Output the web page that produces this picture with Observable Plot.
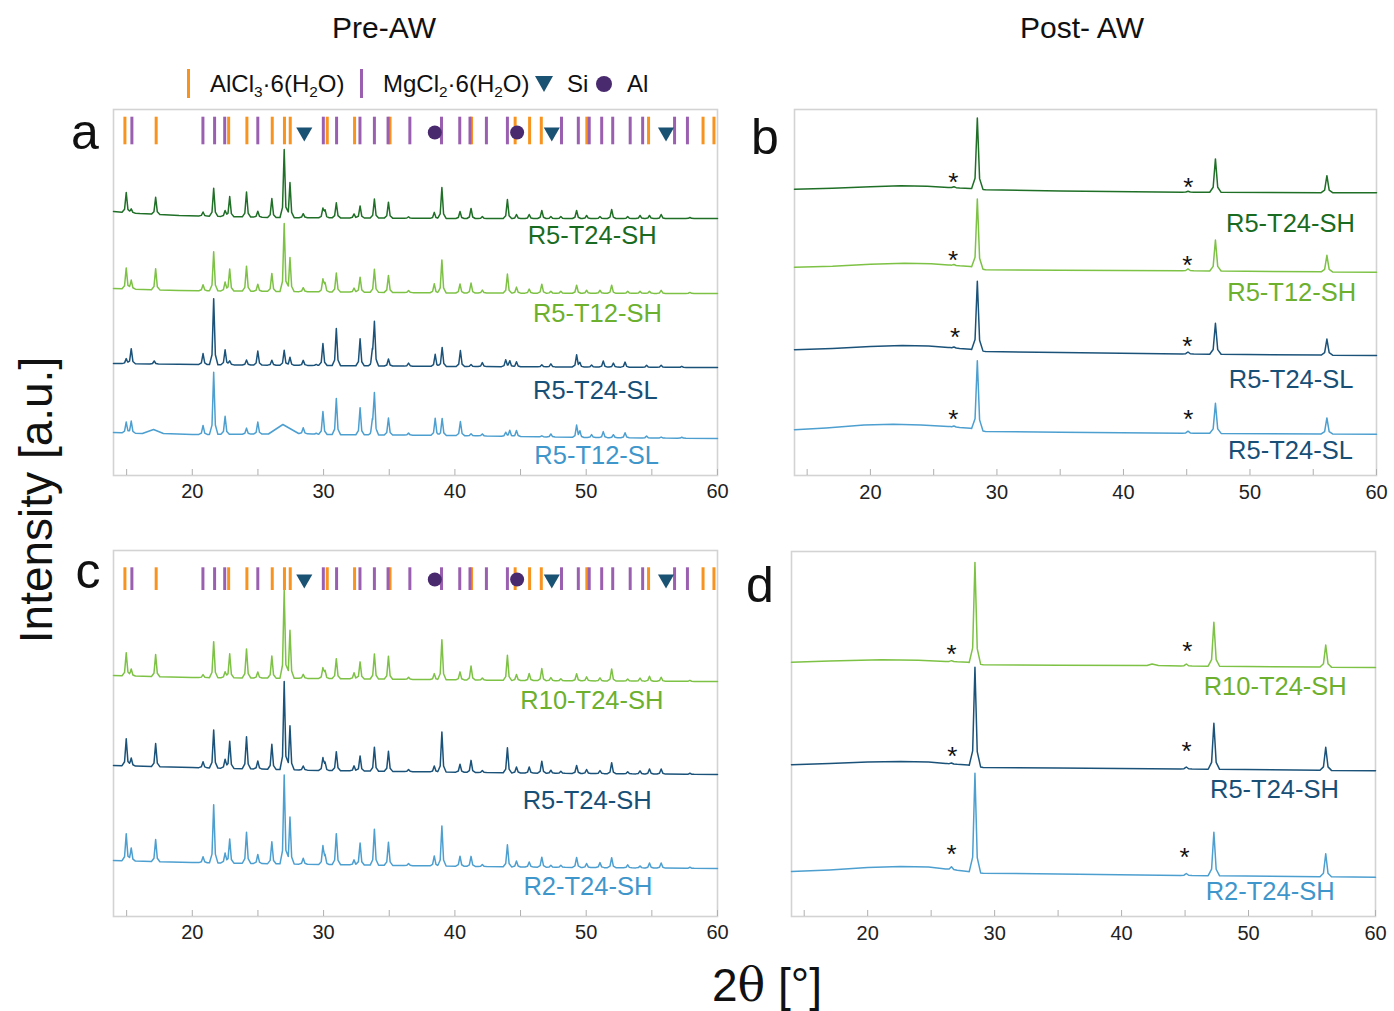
<!DOCTYPE html>
<html><head><meta charset="utf-8">
<script src="https://cdn.jsdelivr.net/npm/d3@7"></script>
<script src="https://cdn.jsdelivr.net/npm/@observablehq/plot@0.6"></script>
<style>
body{margin:0;background:#fff;font-family:"Liberation Sans",Arial,Helvetica,sans-serif;color:#111;}
#root{position:relative;width:1394px;height:1011px;overflow:hidden;background:#fff;}
.abs{position:absolute;white-space:nowrap;line-height:1;}
.leg{font-size:24px;line-height:28px;top:70px;color:#111;}
.leg sub{font-size:64%;vertical-align:-0.32em;line-height:0;}
</style></head><body><div id="root"></div>
<script>
// ---------- axis / reference data ----------
const XDOMAIN = [14, 60];
const xTickValues = [20, 30, 40, 50, 60];
const minorTickValues = [15, 20, 25, 30, 35, 40, 45, 50, 55, 60];

const refAlCl3 = [14.87, 17.25, 22.77, 24.16, 26.09, 27.02, 27.46, 30.28, 32.36, 35.06, 41.27, 44.59, 45.69, 46.58, 50.05, 54.75, 58.9, 59.73];
const refMgCl2 = [15.4, 20.81, 21.7, 22.47, 24.99, 29.98, 30.99, 32.77, 33.87, 34.91, 36.57, 38.98, 40.37, 41.15, 42.4, 44.0, 48.12, 49.4, 50.23, 51.18, 52.02, 53.35, 54.3, 56.73, 57.71];
const refSi = [28.53, 47.38, 56.08];
const refAl = [38.47, 44.74];

// ---------- Pre-AW patterns (peak positions in 2θ, heights in a.u.) ----------
const peaksSH = [14.97, 15.35, 17.21, 20.82, 21.63, 22.5, 22.85, 24.13, 24.99, 26.06, 27.0, 27.44, 28.45, 29.95, 30.11, 30.97, 32.32, 32.78, 33.87, 34.94, 36.47, 38.43, 39.01, 40.39, 41.23, 42.09, 44.0, 44.69, 45.66, 46.62, 47.31, 48.07, 49.27, 50.03, 51.05, 51.94, 53.16, 54.1, 54.82, 55.71, 57.9];
const hA_R5T24SH = [20,4,17,4,28, 6,20,25,6,19, 68,35,4,9,7, 15,4,12,19,16, 1.5,6,31,7,10, 2,19,4,4,8, 2,2,8,3,2, 9,2,3,3,4, 1];
const hA_R5T12SH = [21,9,21,6,39, 9,22,25,7,18, 68,34,4,12,8, 19,4,15,23,17, 2,9,33,9,10, 3,19,6,4,9, 2,2,8,3,3, 8,2,2,2,3, 1];
const hC_R10T24SH = [23,7,22,3,36, 6,24,29,6,22, 88,48,4,10,7, 20,6,17,25,23, 2,6,40,8,14, 2,25,6,7,12, 3,2,7,4,3, 12,2,3,5,4, 1];
const hC_R5T24SH = [27,8,23,6,38, 9,27,32,8,25, 88,44,4,12,7, 19,5,15,24,20, 2,6,40,8,12, 2,25,6,6,12, 3,2,8,4,3, 11,2,3,5,5, 1];
const hC_R2T24SH = [27,13,22,6,58, 10,24,31,9,22, 89,47,6,18,8, 31,5,22,36,23, 2,10,40,10,10, 2,22,6,5,10, 2,2,10,4,5, 10,3,2,5,5, 1];

const peaksSL = [14.97, 15.35, 17.1, 20.82, 21.63, 22.5, 22.85, 24.13, 24.99, 26.06, 27.0, 27.44, 28.45, 29.44, 29.95, 30.97, 32.78, 33.72, 33.87, 34.94, 36.47, 38.5, 39.03, 40.42, 41.23, 42.09, 43.87, 44.18, 44.69, 46.62, 47.31, 49.27, 49.52, 50.41, 51.3, 52.07, 52.96, 54.6, 55.71, 57.28];
const hA_R5T24SL = [5,15,3,11,66, 15,4,5,14,5, 15,8,5,1,22, 37,27,12,43,7, 3,12,19,16,2, 4,7,6,5,2, 3,12,4,2,6, 4,5,2,2,1];
const hA_R5T12SL = [11,12,0,9,62, 18,0,6,12,0, 0,0,6,1,23, 36,27,11,41,17, 2,17,17,14,2, 2,4,6,6,1, 3,12,6,3,6, 3,5,2,1,1];

// baselines: [2θ, intensity]
const baseA_R5T24SH = [[14,264],[16,262],[19,260],[26,258],[40,257],[60,257]];
const baseA_R5T12SH = [[14,187],[19,185],[27,184],[40,182.5],[60,182]];
const baseA_R5T24SL = [[14,112],[24,110.5],[30,110],[40,109],[60,108]];
const baseA_R5T12SL = [[14,43],[16.2,42],[17.05,46],[17.8,42],[20,41],[25.8,41.5],[26.9,51],[28.1,42],[30,41],[40,40],[50,38],[60,37]];
const baseC_R10T24SH = [[14,241],[20,239],[30,238],[45,236],[60,235]];
const baseC_R5T24SH = [[14,151],[20,149],[30,146],[45,143.5],[60,142]];
const baseC_R2T24SH = [[14,56],[20,54],[30,52],[45,49.5],[60,48]];

// ---------- Post-AW patterns ----------
const peaksPost = [26.6, 28.45, 45.1, 47.27, 56.08];
const hB_R5T24SH = [1, 71, 1, 33.4, 17];
const hB_R5T12SH = [1, 69, 2, 31, 16.5];
const hB_R5T24SL = [1, 69, 2, 31, 16];
const hB_R5T24SL2 = [1, 69, 2, 30, 16];
const hD_R10T24SH = [1, 101, 2, 44, 22];
const hD_R5T24SH = [1, 99, 2, 46, 23];
const hD_R2T24SH = [3, 99, 2, 43.5, 23];

const baseB_R5T24SH = [[14,286.3],[17,287.3],[20,288.8],[22.4,289.7],[24.5,289.2],[26.3,288],[27.9,287],[29.1,285.7],[35,284.5],[45,283.3],[60,282.7]];
const baseB_R5T12SH = [[14,208.3],[17,209.3],[20,211.2],[22.7,212.3],[24.8,211.8],[26.3,210.3],[27.9,209],[29.1,205.7],[35,205.2],[45,204.7],[60,203.3]];
const baseB_R5T24SL = [[14,125.7],[17,127],[20,129],[22.5,130],[24.6,129.5],[26.3,127.8],[27.9,126.3],[29.1,124],[35,123],[45,121.5],[60,120]];
const baseB_R5T24SL2 = [[14,45.7],[16.5,47.5],[19.5,50.5],[21.8,51.3],[24,50.6],[26.3,48.8],[27.9,47.3],[29.1,44],[35,43.3],[45,42.3],[60,41.3]];
const baseD_R10T24SH = [[14,254.3],[17,255.6],[21.1,256.7],[24,256.2],[26.3,255],[27.9,254.3],[29.1,251.7],[35,251.3],[42,251],[42.4,252.5],[42.9,251],[45,250.5],[60,249]];
const baseD_R5T24SH = [[14,151.7],[17,153],[20,154.5],[22.6,155],[24.8,154.5],[26.3,152.8],[27.9,151.5],[29.1,149],[35,148.5],[45,147.5],[60,145.7]];
const baseD_R2T24SH = [[14,45],[17,46.6],[20,49],[22.6,50],[24.8,49.4],[26.3,47.2],[27.9,45],[29.1,43.3],[35,42.5],[45,41],[60,39.3]];

// asterisks (2θ, intensity)
const starsB = [[26.56,300],[45.13,294.7],[26.53,221.7],[45.04,217.3],[26.7,144.7],[45.04,136.3],[26.56,63],[45.13,63]];
const starsD = [[26.6,269.3],[45.18,272.3],[26.66,167.3],[45.12,172.3],[26.6,69.3],[44.97,66]];

// ---------- colours ----------
const C = {
  dg: "#1f6f27", lg: "#7dc245", db: "#1b5279", lb: "#4d9fd0",
  dgT: "#1a6b22", lgT: "#6cb02e", dbT: "#174f77", lbT: "#3f96cb",
  orange: "#f7931e", purple: "#9b5fb0", si: "#1a5273", al: "#4a2a6e"
};

// ---------- helpers ----------
const SHAPE = [[-1,0],[-0.4,0.15],[0,1],[0.4,0.15],[1,0]];
function pw(knots, x) {
  if (x <= knots[0][0]) return knots[0][1];
  for (let i = 1; i < knots.length; i++) {
    if (x <= knots[i][0]) {
      const [x0,y0] = knots[i-1], [x1,y1] = knots[i];
      return y0 + (y1 - y0) * (x - x0) / (x1 - x0);
    }
  }
  return knots[knots.length-1][1];
}
function profile(positions, heights, baseline, w) {
  const xs = new Set(baseline.map(d => d[0]));
  positions.forEach((p, i) => { if (heights[i] > 0) SHAPE.forEach(k => xs.add(+(p + k[0]*w).toFixed(4))); });
  const sorted = [...xs].filter(x => x >= XDOMAIN[0] && x <= XDOMAIN[1]).sort((a,b) => a-b);
  return sorted.map(x => {
    let y = pw(baseline, x);
    positions.forEach((p, i) => {
      const t = (x - p) / w;
      if (t > -1 && t < 1) y += heights[i] * pw(SHAPE, t);
    });
    return {x, y};
  });
}
const triDown = {draw(ctx, size) {
  const r = Math.sqrt(size / Math.PI), w = r * 1.15;
  ctx.moveTo(-w, -r * 0.85); ctx.lineTo(w, -r * 0.85); ctx.lineTo(0, r * 1.15); ctx.closePath();
}};

const root = document.getElementById("root");
function addDiv(html, style, cls) {
  const d = document.createElement("div");
  d.className = "abs" + (cls ? " " + cls : "");
  d.innerHTML = html; d.setAttribute("style", style);
  root.appendChild(d); return d;
}

function makePanel(cfg) {
  const ml = 16, mr = 16, mt = 4, mb = 40;
  const W = cfg.right - cfg.left, H = cfg.bottom - cfg.top;
  const marks = [
    Plot.frame({stroke: "#d3d3d3", strokeWidth: 1.6}),
    Plot.ruleX(minorTickValues, {x: d => d, y1: () => 0, y2: () => 6, stroke: "#b0b0b0", strokeWidth: 1}),
    Plot.text(xTickValues, {x: d => d, frameAnchor: "bottom", dy: cfg.tickDy, text: d => String(d), fontSize: 20, fill: "#222"})
  ];
  cfg.series.forEach(s => marks.push(Plot.line(profile(s.pos, s.h, s.base, cfg.w), {x: "x", y: "y", stroke: s.color, strokeWidth: 1.5})));
  cfg.labels.forEach(l => marks.push(Plot.text([l], {x: d => d.x, y: d => d.y, text: d => d.text, fill: d => d.color, fontSize: 25.5})));
  if (cfg.stars) marks.push(Plot.text(cfg.stars, {x: d => d[0], y: d => d[1], text: () => "*", fontSize: 26, fill: "#111", dy: 7}));
  if (cfg.refs) {
    const [b1, b2, ySym] = cfg.refs;
    marks.push(Plot.ruleX(refAlCl3, {x: d => d, y1: () => b1, y2: () => b2, stroke: C.orange, strokeWidth: 3}));
    marks.push(Plot.ruleX(refMgCl2, {x: d => d, y1: () => b1, y2: () => b2, stroke: C.purple, strokeWidth: 3}));
    marks.push(Plot.dot(refSi, {x: d => d, y: () => ySym - 1, symbol: triDown, r: 7, fill: C.si, stroke: "none"}));
    marks.push(Plot.dot(refAl, {x: d => d, y: () => ySym, r: 7, fill: C.al, stroke: "none"}));
  }
  const svg = Plot.plot({
    width: W + ml + mr, height: H + mt + mb,
    marginLeft: ml, marginRight: mr, marginTop: mt, marginBottom: mb,
    x: {domain: XDOMAIN, axis: null},
    y: {domain: [0, H], axis: null},
    style: {fontFamily: '"Liberation Sans", Arial, sans-serif', background: "transparent", overflow: "visible"},
    marks
  });
  svg.style.position = "absolute";
  svg.style.left = (cfg.left - ml) + "px";
  svg.style.top = (cfg.top - mt) + "px";
  root.appendChild(svg);
}

// Panel a
makePanel({left: 113, right: 717, top: 109, bottom: 475, w: 0.32, tickDy: 22,
  refs: [330.7, 358.3, 343],
  series: [
    {pos: peaksSH, h: hA_R5T24SH, base: baseA_R5T24SH, color: C.dg},
    {pos: peaksSH, h: hA_R5T12SH, base: baseA_R5T12SH, color: C.lg},
    {pos: peaksSL, h: hA_R5T24SL, base: baseA_R5T24SL, color: C.db},
    {pos: peaksSL, h: hA_R5T12SL, base: baseA_R5T12SL, color: C.lb}
  ],
  labels: [
    {x: 50.45, y: 240, text: "R5-T24-SH", color: C.dgT},
    {x: 50.85, y: 162, text: "R5-T12-SH", color: C.lgT},
    {x: 50.7, y: 85, text: "R5-T24-SL", color: C.dbT},
    {x: 50.8, y: 19.5, text: "R5-T12-SL", color: C.lbT}
  ]});

// Panel b
makePanel({left: 794, right: 1376, top: 109, bottom: 475, w: 0.45, tickDy: 23,
  series: [
    {pos: peaksPost, h: hB_R5T24SH, base: baseB_R5T24SH, color: C.dg},
    {pos: peaksPost, h: hB_R5T12SH, base: baseB_R5T12SH, color: C.lg},
    {pos: peaksPost, h: hB_R5T24SL, base: baseB_R5T24SL, color: C.db},
    {pos: peaksPost, h: hB_R5T24SL2, base: baseB_R5T24SL2, color: C.lb}
  ],
  labels: [
    {x: 53.2, y: 251.7, text: "R5-T24-SH", color: C.dgT},
    {x: 53.3, y: 182.3, text: "R5-T12-SH", color: C.lgT},
    {x: 53.25, y: 96, text: "R5-T24-SL", color: C.dbT},
    {x: 53.2, y: 24.3, text: "R5-T24-SL", color: C.dbT}
  ],
  stars: starsB});

// Panel c
makePanel({left: 113, right: 717, top: 550, bottom: 916, w: 0.32, tickDy: 22,
  refs: [326, 348.7, 337],
  series: [
    {pos: peaksSH, h: hC_R10T24SH, base: baseC_R10T24SH, color: C.lg},
    {pos: peaksSH, h: hC_R5T24SH, base: baseC_R5T24SH, color: C.db},
    {pos: peaksSH, h: hC_R2T24SH, base: baseC_R2T24SH, color: C.lb}
  ],
  labels: [
    {x: 50.43, y: 216, text: "R10-T24-SH", color: C.lgT},
    {x: 50.07, y: 116, text: "R5-T24-SH", color: C.dbT},
    {x: 50.13, y: 29.3, text: "R2-T24-SH", color: C.lbT}
  ]});

// Panel d
makePanel({left: 791, right: 1375, top: 551, bottom: 916, w: 0.45, tickDy: 23,
  series: [
    {pos: peaksPost, h: hD_R10T24SH, base: baseD_R10T24SH, color: C.lg},
    {pos: peaksPost, h: hD_R5T24SH, base: baseD_R5T24SH, color: C.db},
    {pos: peaksPost, h: hD_R2T24SH, base: baseD_R2T24SH, color: C.lb}
  ],
  labels: [
    {x: 52.1, y: 229.3, text: "R10-T24-SH", color: C.lgT},
    {x: 52.04, y: 126.7, text: "R5-T24-SH", color: C.dbT},
    {x: 51.7, y: 24.3, text: "R2-T24-SH", color: C.lbT}
  ],
  stars: starsD});

// ---------- titles, legend, axis titles, panel letters ----------
addDiv("Pre-AW", "left:384px;top:13px;font-size:30px;transform:translateX(-50%);");
addDiv("Post- AW", "left:1082px;top:13px;font-size:30px;transform:translateX(-50%);");

addDiv("", `left:187px;top:69px;width:3px;height:29px;background:${C.orange};`);
addDiv("AlCl<sub>3</sub>·6(H<sub>2</sub>O)", "left:210px;", "leg");
addDiv("", `left:360px;top:69px;width:3px;height:29px;background:${C.purple};`);
addDiv("MgCl<sub>2</sub>·6(H<sub>2</sub>O)", "left:383px;", "leg");
addDiv(`<svg width="18" height="16"><path d="M0,0L18,0L9,16Z" fill="${C.si}"/></svg>`, "left:535px;top:76px;");
addDiv("Si", "left:567px;", "leg");
addDiv(`<svg width="16" height="16"><circle cx="8" cy="8" r="8" fill="${C.al}"/></svg>`, "left:596px;top:76px;");
addDiv("Al", "left:627px;", "leg");

addDiv("Intensity [a.u.]", "left:36px;top:500px;font-size:46px;transform:translate(-50%,-50%) rotate(-90deg);");
addDiv('2<span style="font-family:\'DejaVu Serif\',\'Liberation Serif\',serif;">θ</span> [°]', "left:767px;top:962px;font-size:46px;transform:translateX(-50%);");

addDiv("a", "left:85px;top:107px;font-size:50px;transform:translateX(-50%);");
addDiv("b", "left:765px;top:112px;font-size:50px;transform:translateX(-50%);");
addDiv("c", "left:88px;top:546px;font-size:50px;transform:translateX(-50%);");
addDiv("d", "left:760px;top:560px;font-size:50px;transform:translateX(-50%);");
</script></body></html>
